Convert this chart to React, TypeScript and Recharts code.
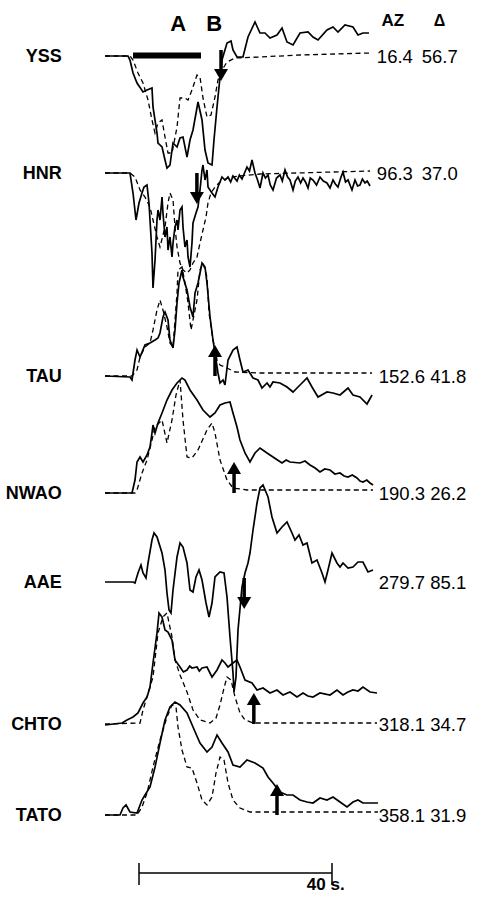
import React from "react"
import {
  ComposedChart,
  Line,
  Scatter,
  XAxis,
  YAxis,
  ReferenceLine,
  ReferenceArea,
} from "recharts"

// stations, top to bottom
const STATIONS = ["YSS", "HNR", "TAU", "NWAO", "AAE", "CHTO", "TATO"]
// trace baselines on the (hidden) vertical axis
const OFFSETS = [850, 733, 530, 413, 324, 182, 91]
const AZ = ["16.4", "96.3", "152.6", "190.3", "279.7", "318.1", "358.1"]
const DELTA = ["56.7", "37.0", "41.8", "26.2", "85.1", "34.7", "31.9"]
// picked arrivals (s) and first-motion direction (1 up, -1 down)
const ARRIVAL_T = [17.0, 12.0, 15.75, 19.7, 21.8, 23.8, 28.6]
const ARRIVAL_DIR = [-1, -1, 1, 1, -1, 1, 1]
const ARRIVAL_START = [6, 0, 0, 0, 4, 0, 0]

// [time s, amplitude] observed (solid) and synthetic (dashed)
const YSS_OBS = [
  [-7.05, 0], [-2.28, 0], [-1.87, -4], [-1.24, -17], [-0.41, -27], [0.83, -36], [1.66, -34],
  [2.69, -32], [2.9, -51], [3.73, -77], [3.94, -87], [4.77, -91], [5.39, -104], [5.8, -112],
  [6.42, -109], [6.84, -94], [7.05, -87], [7.88, -91], [8.5, -82], [9.12, -81], [9.95, -101],
  [10.57, -84], [11.19, -74], [12.23, -46], [13.06, -64], [13.68, -94], [14.3, -107],
  [15.13, -109], [15.54, -84], [16.17, -51], [16.79, -21], [17.2, -4], [18.24, 13], [19.07, 15],
  [19.48, 6], [20.31, -1], [21.55, -1], [22.59, 19], [24.04, 34], [25.08, 23], [26.11, 23],
  [27.15, 18], [28.6, 21], [29.64, 28], [30.67, 14], [31.92, 11], [33.37, 23], [35.03, 24],
  [36.06, 19], [37.1, 16], [38.96, 26], [40.21, 29], [41.24, 24], [42.69, 31], [44.35, 29],
  [45.39, 21], [46.42, 23], [47.67, 23],
]
const YSS_SYN = [
  [-7.05, 0], [-1.87, 0], [-1.24, -4], [-0.21, -17], [0.83, -27], [1.87, -44], [2.69, -64],
  [3.32, -77], [3.94, -67], [4.77, -64], [5.39, -81], [6.01, -97], [6.84, -97], [7.88, -71],
  [8.5, -42], [9.53, -42], [10.16, -44], [10.98, -34], [12.02, -19], [12.64, -21], [13.26, -42],
  [14.09, -61], [14.92, -59], [15.75, -41], [16.37, -24], [17.2, -14], [18.24, -6], [19.9, -2],
  [25.08, -1], [33.37, 1], [47.88, 3],
]
const HNR_OBS = [
  [-7.05, 0], [-1.87, 0], [-1.24, -20], [-0.62, -47], [0, -30], [0.62, -20], [1.04, -14],
  [1.66, -12], [2.07, -30], [2.69, -80], [2.9, -115], [3.32, -87], [3.73, -47], [3.94, -37],
  [4.35, -47], [4.77, -24], [4.97, -40], [5.39, -64], [5.8, -54], [6.01, -77], [6.42, -64],
  [6.84, -84], [7.05, -70], [7.46, -54], [7.88, -47], [8.08, -57], [8.5, -37], [8.91, -34],
  [9.12, -54], [9.53, -74], [9.95, -67], [10.16, -84], [10.57, -94], [10.98, -70], [11.19, -50],
  [11.81, -40], [12.23, -34], [12.64, -17], [13.06, 3], [13.26, 8], [13.68, -7], [14.09, 3],
  [14.3, -14], [15.13, -20], [15.75, -24], [16.37, -14], [17.2, -4], [17.82, -7], [18.45, -4],
  [19.0, -9], [19.48, -3], [20.31, -8], [20.8, -2], [21.35, -6], [22.38, 6], [22.9, 2],
  [23.42, 13], [24.04, 0], [24.5, -6], [25.08, -15], [25.7, 0], [26.2, -5], [26.74, -2],
  [27.2, -12], [27.77, -17], [28.5, -5], [29.22, -2], [29.7, -8], [30.26, 3], [30.8, -4],
  [31.29, -7], [31.92, -17], [32.4, -8], [32.95, -4], [33.5, -10], [33.99, -5], [34.5, -9],
  [35.03, -15], [35.5, -5], [36.06, -7], [36.8, -12], [37.51, -4], [38.2, -8], [38.96, -10],
  [39.59, -15], [40.21, -7], [40.7, -11], [41.24, -14], [41.8, -5], [42.28, 1], [42.8, -9],
  [43.32, -7], [44.14, -17], [44.77, -7], [45.3, -13], [45.8, -12], [46.3, -6], [46.84, -10],
  [47.3, -8], [47.88, -13],
]
const HNR_SYN = [
  [-7.05, 0], [-1.87, 0], [-0.83, -4], [0.21, -17], [1.24, -24], [2.28, -34], [2.9, -47],
  [3.73, -64], [4.35, -74], [5.39, -54], [6.01, -30], [6.42, -20], [7.05, -27], [7.46, -54],
  [7.88, -74], [8.5, -90], [9.12, -97], [9.95, -100], [10.57, -97], [11.19, -90], [12.02, -84],
  [12.64, -70], [13.26, -57], [13.89, -44], [14.3, -30], [14.92, -20], [15.75, -14],
  [16.79, -9], [18.86, -4], [25.08, -1], [47.88, 2],
]
const TAU_OBS = [
  [-7.05, 0], [-1.87, -1], [-1.45, -4], [-0.83, 16], [-0.41, 26], [0.21, 19], [1.24, 31],
  [2.28, 33], [3.32, 36], [3.94, 38], [4.35, 43], [4.97, 59], [5.39, 64], [6.01, 56], [6.42, 36],
  [7.05, 28], [7.46, 46], [7.88, 73], [8.29, 93], [8.91, 106], [9.12, 99], [9.95, 86],
  [10.57, 69], [11.19, 59], [11.61, 83], [12.23, 93], [13.06, 113], [13.68, 109], [14.09, 93],
  [14.72, 59], [15.34, 36], [15.96, 16], [16.37, 3], [16.79, -7], [17.41, -4], [17.82, -9],
  [18.45, 16], [19.48, 26], [20.31, 29], [20.93, 16], [21.55, 4], [22.59, 6], [23.63, -2],
  [24.66, -4], [25.49, -12], [26.53, -7], [27.15, -11], [27.77, -6], [29.22, -7], [30.67, -11],
  [31.92, -16], [33.37, -9], [34.82, -2], [35.85, -11], [37.1, -21], [38.96, -16], [40.21, -17],
  [41.66, -19], [43.32, -12], [44.35, -19], [45.8, -21], [47.25, -28], [48.3, -19],
]
const TAU_SYN = [
  [-7.05, 0], [-1.45, 0], [-0.41, 6], [0.21, 19], [1.24, 29], [2.28, 33], [2.9, 46], [3.73, 66],
  [4.35, 76], [4.97, 66], [5.8, 49], [6.42, 33], [7.05, 29], [7.46, 56], [7.88, 83], [8.08, 106],
  [8.91, 109], [9.53, 93], [10.16, 73], [10.78, 46], [11.19, 56], [12.02, 76], [12.64, 106],
  [13.26, 113], [14.09, 99], [14.51, 63], [15.34, 36], [16.17, 16], [16.79, 11], [18.24, 8],
  [19.9, 4], [25.08, 3], [48.3, 3],
]
const NWAO_OBS = [
  [-7.05, 0], [-1.45, 0], [-0.83, 13], [-0.41, 31], [0.21, 36], [0.83, 31], [1.66, 38],
  [2.28, 46], [2.69, 60], [2.9, 68], [3.32, 60], [3.94, 70], [4.77, 80], [5.8, 93], [6.84, 103],
  [7.88, 110], [8.91, 115], [9.53, 113], [10.57, 103], [12.02, 93], [13.26, 83], [14.72, 76],
  [15.75, 80], [16.79, 88], [17.82, 90], [18.86, 91], [19.48, 80], [20.31, 66], [20.93, 53],
  [21.97, 40], [23.0, 31], [24.04, 40], [25.08, 45], [26.53, 40], [27.77, 36], [28.7, 33],
  [29.64, 30], [30.5, 33], [31.29, 31], [33.37, 30], [34.4, 32], [35.44, 28], [36.5, 25],
  [37.51, 21], [38.5, 24], [39.59, 23], [40.6, 19], [41.66, 20], [42.5, 17], [43.32, 16],
  [44.2, 18], [45.18, 15], [45.8, 12], [46.42, 11], [47.2, 13], [47.88, 10], [48.5, 8],
]
const NWAO_SYN = [
  [-7.05, 0], [-0.83, 0], [-0.41, 3], [0.62, 20], [1.66, 33], [2.69, 53], [3.32, 66], [4.77, 73],
  [5.8, 50], [6.84, 73], [7.67, 98], [8.5, 113], [9.12, 73], [9.95, 36], [10.98, 35], [12.23, 43],
  [14.09, 63], [15.13, 70], [15.75, 60], [16.79, 33], [18.24, 13], [19.48, 5], [22.38, 3],
  [48.5, 3],
]
const AAE_OBS = [
  [-7.05, 0], [-1.24, 0], [-0.83, -1], [-0.21, 9], [0.41, 17], [0.83, 9], [1.45, 4], [1.87, 19],
  [2.69, 42], [3.11, 49], [3.73, 45], [4.77, 29], [5.39, 12], [5.8, -11], [6.22, -28],
  [6.63, -31], [7.05, -8], [7.88, 25], [8.5, 39], [9.12, 35], [9.95, 19], [10.57, -8],
  [11.19, -10], [11.81, 5], [12.44, 12], [13.06, 2], [13.89, -21], [14.51, -35], [15.13, -21],
  [15.75, 5], [16.79, 10], [17.62, 9], [18.24, -15], [18.86, -55], [19.48, -91], [19.69, -110],
  [20.1, -95], [20.52, -48], [21.35, -5], [21.97, 9], [22.59, 19], [23.0, 29], [23.63, 52],
  [24.46, 79], [25.08, 94], [25.7, 97], [26.74, 85], [27.56, 65], [28.6, 49], [29.64, 55],
  [30.67, 60], [31.71, 49], [32.33, 42], [33.16, 47], [33.99, 37], [34.82, 39], [35.85, 19],
  [36.89, 22], [37.93, 9], [38.55, 0], [39.17, 12], [40.0, 29], [41.03, 19], [41.66, 15],
  [42.28, 19], [43.32, 14], [44.35, 15], [45.39, 20], [46.42, 20], [47.46, 10], [48.5, 12],
]
const CHTO_OBS = [
  [-7.05, -1], [-3.52, 1], [-2.49, 4], [-1.24, 7], [-0.21, 11], [0.83, 21], [1.66, 27],
  [2.28, 37], [2.9, 61], [3.73, 91], [4.15, 111], [4.77, 107], [5.39, 94], [6.01, 92],
  [6.84, 84], [7.46, 64], [8.5, 57], [9.2, 52], [9.95, 54], [10.5, 58], [10.98, 56], [12.02, 57],
  [12.5, 53], [13.06, 56], [14.09, 57], [15.13, 47], [16.17, 54], [17.2, 64], [17.82, 61],
  [18.45, 57], [19.48, 61], [20.31, 64], [20.93, 57], [21.97, 44], [23.42, 41], [24.46, 34],
  [25.7, 36], [27.15, 31], [28.6, 34], [29.84, 29], [31.29, 32], [32.75, 27], [33.99, 31],
  [35.0, 28], [36.06, 27], [37.51, 31], [39.59, 29], [41.03, 34], [42.28, 29], [43.3, 32],
  [44.35, 34], [45.4, 33], [46.42, 37], [47.88, 32], [49.33, 31],
]
const CHTO_SYN = [
  [-7.05, 0], [0.21, 1], [0.83, 14], [1.66, 27], [2.9, 47], [3.94, 91], [4.97, 107], [5.8, 111],
  [6.84, 87], [7.46, 64], [8.5, 49], [9.95, 32], [11.19, 14], [12.64, 4], [14.72, 1], [15.96, 6],
  [16.79, 19], [17.62, 36], [18.24, 47], [19.07, 44], [19.9, 27], [20.93, 11], [21.97, 4],
  [23.63, 1], [49.33, 1],
]
const TATO_OBS = [
  [-7.05, 0], [-3.94, 0], [-3.32, 7], [-2.69, 10], [-1.87, 3], [-0.41, 2], [0.62, 15], [1.24, 20],
  [2.28, 28], [3.32, 48], [4.35, 72], [5.39, 95], [6.42, 108], [7.46, 113], [8.5, 110],
  [9.95, 102], [11.19, 88], [12.64, 72], [14.09, 63], [15.13, 68], [16.17, 80], [17.2, 72],
  [18.45, 63], [19.48, 50], [20.93, 48], [22.38, 55], [24.04, 52], [25.7, 47], [26.74, 38],
  [27.77, 32], [29.22, 23], [30.67, 20], [31.92, 20], [33.37, 15], [34.82, 13], [36.06, 12],
  [37.51, 17], [38.96, 15], [40.21, 18], [41.66, 13], [43.11, 8], [44.35, 13], [45.39, 15],
  [46.42, 12], [47.88, 12], [49.53, 12],
]
const TATO_SYN = [
  [-7.05, 0], [-0.41, 0], [0.62, 8], [1.66, 22], [2.9, 48], [4.35, 75], [5.8, 98], [6.84, 110],
  [7.67, 108], [8.08, 88], [8.91, 65], [9.95, 48], [10.98, 47], [12.02, 32], [13.06, 15],
  [14.09, 10], [15.13, 18], [15.96, 42], [16.79, 58], [17.62, 55], [18.45, 32], [19.48, 15],
  [20.93, 7], [23.0, 3], [49.53, 3],
]

const OBSERVED = [YSS_OBS, HNR_OBS, TAU_OBS, NWAO_OBS, AAE_OBS, CHTO_OBS, TATO_OBS]
const SYNTHETIC = [YSS_SYN, HNR_SYN, TAU_SYN, NWAO_SYN, null, CHTO_SYN, TATO_SYN]

const FONT = "'Liberation Sans', Arial, Helvetica, sans-serif"
const W = 489
const H = 906

const toRows = (pairs: number[][], offset: number) => pairs.map(([t, a]) => ({ t, v: offset + a }))

const TextMark = (props: any) => {
  const { cx, cy, payload } = props
  return (
    <text
      x={cx}
      y={cy}
      textAnchor={payload.anchor}
      dominantBaseline="central"
      fontFamily={FONT}
      fontSize={payload.size}
      fontWeight={payload.bold ? 700 : 400}
      fill="#000"
    >
      {payload.text}
    </text>
  )
}

const ArrowMark = (props: any) => {
  const { cx, cy, payload } = props
  const d = payload.dir === 1 ? -1 : 1
  const len = 31
  const tipY = cy + d * len
  const baseY = tipY - d * 12
  return (
    <g>
      <line x1={cx} y1={cy} x2={cx} y2={baseY} stroke="#000" strokeWidth={3.5} />
      <polygon points={`${cx - 7},${baseY} ${cx + 7},${baseY} ${cx},${tipY}`} fill="#000" />
    </g>
  )
}

export default function App() {
  const stationLabels = STATIONS.map((s, i) => ({
    t: -16, v: OFFSETS[i], text: s, anchor: "end", size: 18, bold: true,
  }))
  // short azimuths keep the distance in its own column, the others run on after a space
  const azLabels = AZ.map((s, i) => ({
    t: s.length > 4 ? 49.7 : 49.3,
    v: OFFSETS[i],
    text: s.length > 4 ? `${s} ${DELTA[i]}` : s,
    anchor: "start",
    size: 18.5,
    bold: false,
  }))
  const deltaLabels = DELTA.map((s, i) => ({ i, s }))
    .filter(({ i }) => AZ[i].length <= 4)
    .map(({ i, s }) => ({ t: 58.6, v: OFFSETS[i], text: s, anchor: "start", size: 18.5, bold: false }))
  const headers = [
    { t: 8.1, v: 883, text: "A", anchor: "middle", size: 22, bold: true },
    { t: 15.6, v: 883, text: "B", anchor: "middle", size: 22, bold: true },
    { t: 52.6, v: 886, text: "AZ", anchor: "middle", size: 17, bold: true },
    { t: 62.3, v: 886, text: "Δ", anchor: "middle", size: 16, bold: true },
    { t: 38.7, v: 22, text: "40 s.", anchor: "middle", size: 17, bold: true },
  ]
  const arrows = STATIONS.map((s, i) => ({
    t: ARRIVAL_T[i], v: OFFSETS[i] + ARRIVAL_START[i], dir: ARRIVAL_DIR[i],
  }))

  return (
    <div style={{ position: "absolute", left: 0, top: 0, width: W, height: H, background: "#fff" }}>
      <ComposedChart width={W} height={H} margin={{ top: 0, right: 0, bottom: 0, left: 0 }}>
        <XAxis type="number" dataKey="t" domain={[-28.81, 72.54]} hide allowDataOverflow />
        <YAxis type="number" domain={[0, H]} hide allowDataOverflow />

        <ReferenceArea x1={-1.24} x2={12.85} y1={OFFSETS[0] - 2.5} y2={OFFSETS[0] + 3.5} fill="#000" fillOpacity={1} stroke="none" />

        {SYNTHETIC.map((s, i) =>
          s ? (
            <Line
              key={"syn" + i}
              data={toRows(s, OFFSETS[i])}
              dataKey="v"
              type="linear"
              stroke="#000"
              strokeWidth={1.3}
              strokeDasharray="5 3.5"
              dot={false}
              activeDot={false}
              isAnimationActive={false}
            />
          ) : null
        )}
        {OBSERVED.map((s, i) => (
          <Line
            key={"obs" + i}
            data={toRows(s, OFFSETS[i])}
            dataKey="v"
            type="linear"
            stroke="#000"
            strokeWidth={1.7}
            dot={false}
            activeDot={false}
            isAnimationActive={false}
          />
        ))}

        <Scatter data={arrows} dataKey="v" shape={ArrowMark} isAnimationActive={false} />
        <Scatter data={stationLabels} dataKey="v" shape={TextMark} isAnimationActive={false} />
        <Scatter data={azLabels} dataKey="v" shape={TextMark} isAnimationActive={false} />
        <Scatter data={deltaLabels} dataKey="v" shape={TextMark} isAnimationActive={false} />
        <Scatter data={headers} dataKey="v" shape={TextMark} isAnimationActive={false} />

        <ReferenceLine segment={[{ x: 0, y: 33 }, { x: 40, y: 33 }]} stroke="#000" strokeWidth={1.5} />
        <ReferenceLine segment={[{ x: 0, y: 21 }, { x: 0, y: 43 }]} stroke="#000" strokeWidth={1.5} />
        <ReferenceLine segment={[{ x: 40, y: 21 }, { x: 40, y: 43 }]} stroke="#000" strokeWidth={1.5} />
      </ComposedChart>
    </div>
  )
}
